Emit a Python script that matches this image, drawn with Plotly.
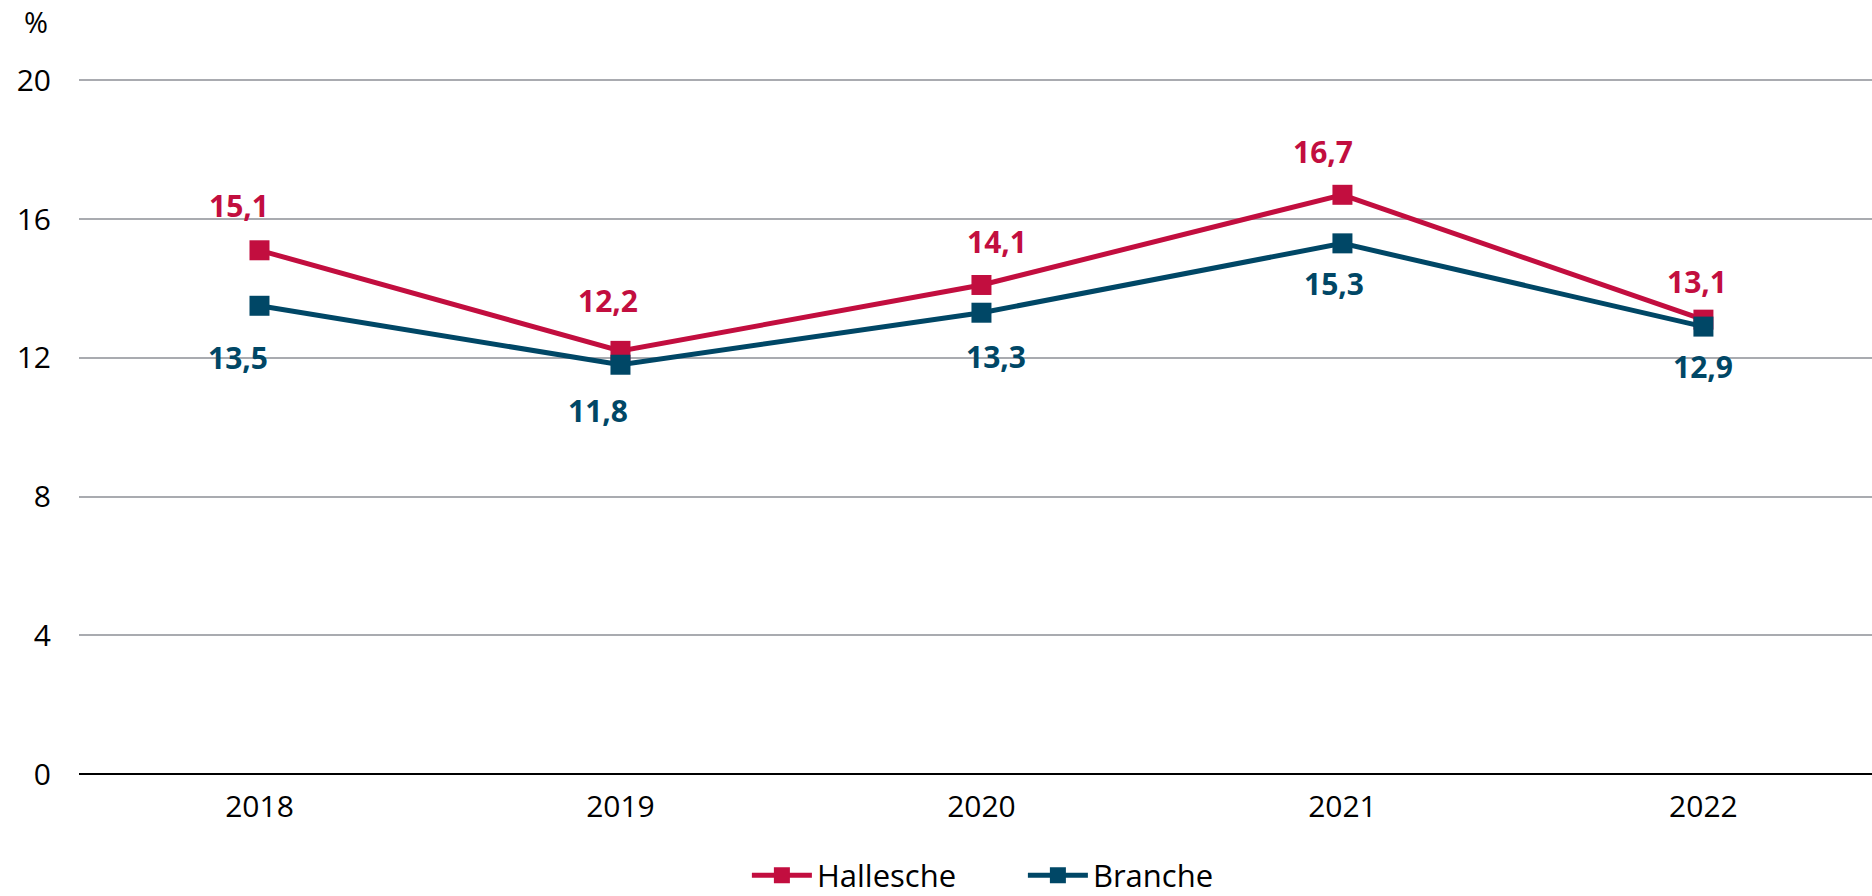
import plotly.graph_objects as go

years = ["2018", "2019", "2020", "2021", "2022"]
hallesche = [15.1, 12.2, 14.1, 16.7, 13.1]
branche = [13.5, 11.8, 13.3, 15.3, 12.9]
hallesche_labels = ["15,1", "12,2", "14,1", "16,7", "13,1"]
branche_labels = ["13,5", "11,8", "13,3", "15,3", "12,9"]
y_ticks = [0, 4, 8, 12, 16, 20]

RED = "#C20E3F"
BLUE = "#004766"
FONT = "Open Sans"

# label placement offsets (px) relative to marker
h_xshift = [-20, -12, 16, -19, -6]
h_yshift = [45, 50, 43, 43, 38]
b_xshift = [-21, -22, 15, -8, 0]
b_yshift = [-52, -46, -44, -40, -40]

fig = go.Figure()
fig.add_trace(go.Scatter(
    x=years, y=hallesche, name="Hallesche", mode="lines+markers",
    line=dict(color=RED, width=5), marker=dict(symbol="square", size=20, color=RED),
    hoverinfo="skip",
))
fig.add_trace(go.Scatter(
    x=years, y=branche, name="Branche", mode="lines+markers",
    line=dict(color=BLUE, width=5), marker=dict(symbol="square", size=20, color=BLUE),
    hoverinfo="skip",
))

annotations = []
for i, yr in enumerate(years):
    annotations.append(dict(x=i, y=hallesche[i], xref="x", yref="y", text=hallesche_labels[i],
                            showarrow=False, xshift=h_xshift[i], yshift=h_yshift[i],
                            font=dict(family=FONT, size=30, color=RED, weight="bold")))
    annotations.append(dict(x=i, y=branche[i], xref="x", yref="y", text=branche_labels[i],
                            showarrow=False, xshift=b_xshift[i], yshift=b_yshift[i],
                            font=dict(family=FONT, size=30, color=BLUE, weight="bold")))
annotations.append(dict(x=-0.024, y=1.0, xref="paper", yref="paper", text="%", showarrow=False,
                        xanchor="center", yanchor="middle", yshift=42,
                        font=dict(family=FONT, size=29, color="#000")))

fig.update_layout(
    width=1872, height=896,
    margin=dict(l=79, r=0, t=63, b=122, autoexpand=False),
    paper_bgcolor="white", plot_bgcolor="white",
    font=dict(family=FONT, size=30, color="#000"),
    showlegend=True,
    hovermode=False,
    annotations=annotations,
    legend=dict(orientation="h", x=0.3725, xanchor="left", y=-0.143, yanchor="middle",
                font=dict(family=FONT, size=31, color="#000"), itemwidth=60,
                tracegroupgap=0, entrywidth=201),
    xaxis=dict(type="category", range=[-0.5, 4.467], showgrid=False, showline=False,
               zeroline=False, ticks="", ticklabelstandoff=12,
               tickfont=dict(family=FONT, size=30, color="#000")),
    yaxis=dict(range=[0, 20.5], tickvals=y_ticks, showgrid=True, gridcolor="#A9ABB0",
               gridwidth=2, zeroline=True, zerolinecolor="#000", zerolinewidth=2,
               showline=False, ticks="", ticklabelstandoff=27,
               tickfont=dict(family=FONT, size=30, color="#000")),
)

fig.write_html("out.html", config={"displayModeBar": False, "staticPlot": True},
               post_script="document.body.style.margin='0';document.body.style.overflow='hidden';")
